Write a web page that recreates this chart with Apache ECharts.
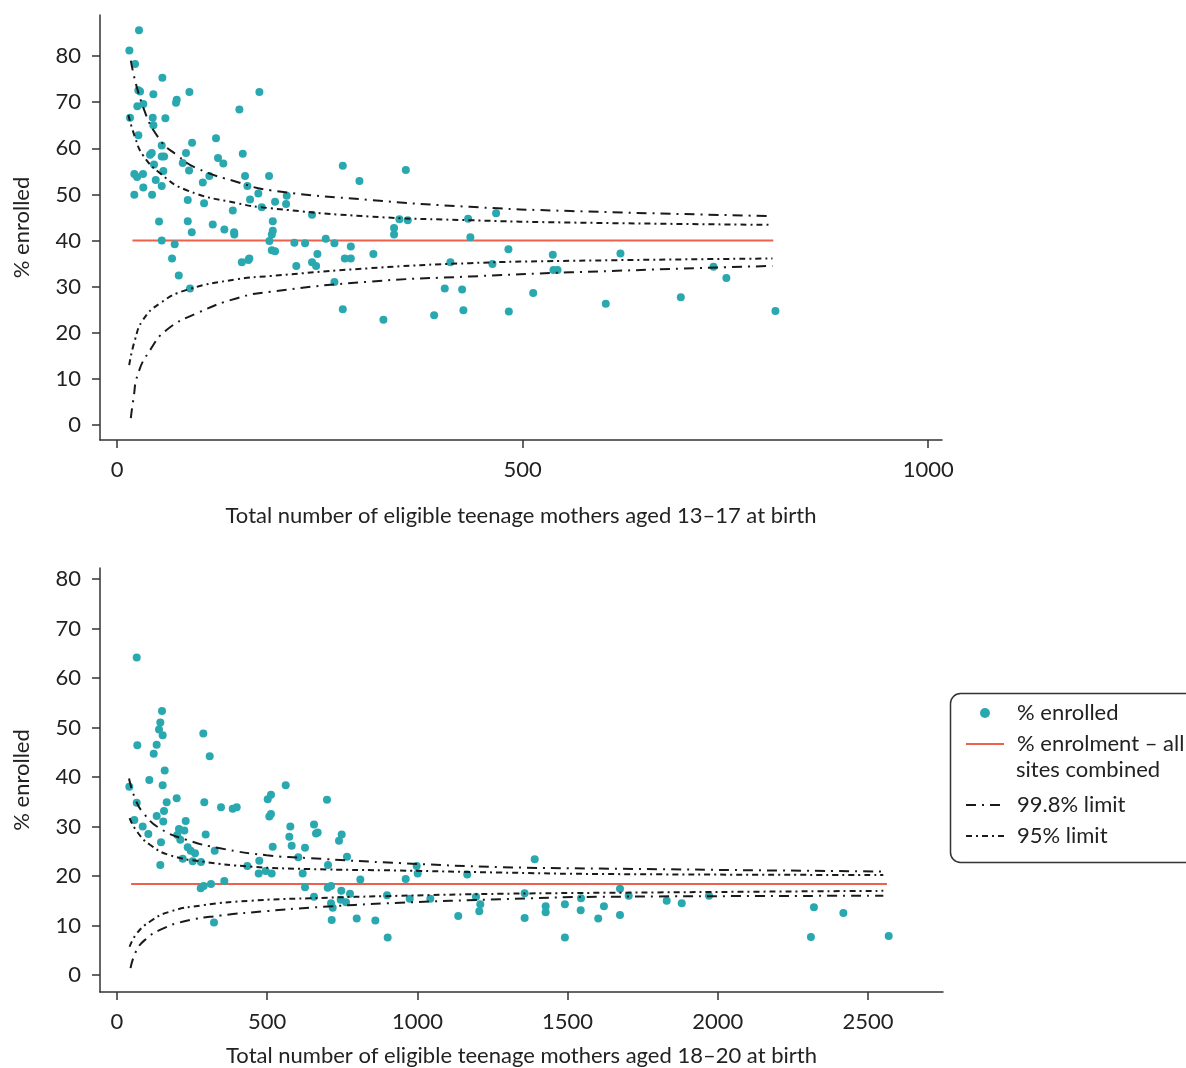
<!DOCTYPE html>
<html>
<head>
<meta charset="utf-8">
<script src="https://cdn.jsdelivr.net/npm/echarts@6/dist/echarts.min.js"></script>
<style>html,body{margin:0;padding:0;background:#fff}#c{width:1186px;height:1068px}</style>
</head>
<body>
<div id="c"></div>
<script>
// ---------- DATA ----------
// Top panel: teenage mothers aged 13–17 at birth
const topN = [27.1,15.2,22.2,55.9,26.3,28.4,44.8,89.2,175.5,73.6,72.7,32.4,25,150.8,16,44,59.6,44.8,26.3,122,92.5,55.1,85,155,40.7,42.8,55.1,58,124.5,81,45.6,131,88.8,57.1,21.3,24.7,32,157.8,187.4,113.8,
  47.7,55.1,32.4,21.3,43.2,87.2,107.3,105.7,160.7,174.2,164,194.8,209.2,208.4,178.4,142.7,192,51.8,87.2,92.1,118,132.3,144.3,144.6,192,190.8,187.8,218.6,55.1,71.1,190.8,194.8,67.8,163.1,161.9,153.8,221,76.1,90,
  278.3,356,298.8,240.4,467.3,348.1,358.4,432.8,341.5,341.5,435.6,257.3,231.8,268,288.2,482.5,537.2,247,316,280.8,288.2,240.4,245.4,411,462.8,538,543,268,404,425.4,513,278.3,390.9,427,483,328.4,
  620.6,735.3,751.2,602.5,695,811.7];
const topPct = [85.6,81.2,78.3,75.3,72.6,72.3,71.7,72.2,72.2,70.5,69.9,69.6,69.1,68.4,66.6,66.6,66.5,65,62.8,62.2,61.2,60.6,59,58.8,58.6,59,58.2,58.2,57.9,56.8,56.5,56.7,55.2,55.1,54.4,53.8,54.4,54,54,54,
  53.1,51.8,51.5,49.9,49.9,48.8,48.1,52.6,51.8,50.2,48.9,48.4,49.7,47.9,47.2,46.5,44.2,44.1,44.2,41.8,43.5,42.4,41.8,41.3,42.1,41.3,39.9,39.5,40,39.2,37.9,37.7,36.1,36.1,35.8,35.3,34.5,32.4,29.6,
  56.2,55.3,52.9,45.6,45.9,44.6,44.4,44.7,42.7,41.3,40.7,40.4,39.4,39.4,38.7,38.1,36.9,37.1,37.1,36.1,36.1,35.3,34.5,35.3,34.9,33.6,33.6,31,29.6,29.4,28.6,25.1,23.8,24.9,24.6,22.8,
  37.2,34.3,31.9,26.3,27.7,24.7];
const topOverallN = [19, 809];
const topOverallPct = [40, 40];
const topU998N = [17, 32, 53, 74, 98, 148, 189, 312, 435, 559, 808];
const topU998 = [79.0, 69.0, 61.8, 58.5, 55.7, 52.7, 50.9, 48.8, 47.3, 46.4, 45.3];
const topL998N = [17, 20, 26, 41, 61, 98, 148, 189, 312, 435, 559, 808];
const topL998 = [1.5, 5.4, 11.2, 16.3, 20.6, 24.2, 27.5, 28.9, 31.1, 32.2, 33.1, 34.5];
const topU95N = [14, 22, 32, 53, 86, 148, 189, 312, 435, 559, 808];
const topU95 = [67.2, 62.5, 58.5, 54.6, 50.9, 48.1, 47.0, 45.2, 44.4, 43.9, 43.4];
const topL95N = [15, 22, 32, 53, 86, 148, 189, 312, 435, 559, 808];
const topL95 = [13.0, 18.4, 22.8, 26.4, 29.3, 31.6, 32.3, 34.0, 35.1, 35.6, 36.1];

// Bottom panel: teenage mothers aged 18–20 at birth
const botN = [65.6,149.8,144.2,139.8,152,287.3,67.6,132,122.2,308.6,158.8,107.5,
  152,41,561.6,165.4,198.7,65.6,290.6,346.2,385.2,398.5,501.7,512.6,699,156.5,132.2,154,507,512.6,57.6,228.7,655.8,577,85.5,104.3,206.4,224.1,200.8,295.2,573.6,662.5,668,748,739,210.7,146.5,581.5,518.3,625.8,235.3,245.3,259.7,218.7,252,279.6,325.2,765.6,603.5,144.1,433.8,473.7,495,471.7,515,702.4,618.2,278.6,288.6,312.9,357.2,625.8,701.4,712.4,655.8,712.4,718,746.7,744.7,762.3,775.6,714.7,322.9,
  1390.5,997.7,1001,810,961,1166,898.8,974.4,1043,1195,1357,1544.6,1209.4,1206,1427,1427,1491,1543.6,1136,1357,1602,798,860,901,1491,
  1674.4,1703.4,1829.9,1880,1970.7,1621,1674.4,2320,2418,2310,2569];
const botPct = [64.1,53.3,51,49.6,48.4,48.8,46.4,46.5,44.7,44.2,41.3,39.4,
  38.3,38,38.3,34.9,35.7,34.8,34.9,33.9,33.6,33.9,35.5,36.4,35.4,33.1,32.1,31,32,32.5,31.3,31.1,30.4,30,30,28.5,29.5,29.2,28.3,28.4,27.9,28.6,28.8,28.4,27.1,27.3,26.8,26.1,25.9,25.7,25.8,25.1,24.6,23.5,23,22.8,25.1,23.9,23.8,22.2,22,23.1,21,20.5,20.5,22.2,20.5,17.5,18,18.4,19,17.7,17.6,18,15.8,14.5,13.6,17,15.2,14.7,16.4,11.1,10.6,
  23.4,22,20.5,19.3,19.4,20.3,16.1,15.4,15.4,15.8,16.5,15.5,14.3,12.9,13.9,12.7,14.3,13.1,11.9,11.5,11.4,11.4,11,7.6,7.6,
  17.4,16,15,14.5,16,13.9,12.1,13.7,12.5,7.7,7.9];
const botOverallN = [47, 2563];
const botOverallPct = [18.4, 18.4];
const botU998N = [40, 60, 88, 143, 232, 343, 498, 642, 942, 1275, 1608, 2551];
const botU998 = [39.7, 35.7, 32.7, 29.6, 27.3, 25.6, 24.2, 23.6, 22.6, 21.8, 21.5, 20.9];
const botL998N = [45, 66, 99, 143, 221, 343, 498, 642, 942, 1275, 1608, 2551];
const botL998 = [1.4, 5.1, 7.4, 9.1, 10.8, 12.0, 12.9, 13.6, 14.6, 15.3, 15.8, 16.0];
const botU95N = [42, 66, 110, 176, 287, 443, 642, 942, 1275, 1608, 2551];
const botU95 = [31.7, 29.0, 26.3, 24.2, 22.9, 21.9, 21.4, 21.1, 20.7, 20.4, 20.2];
const botL95N = [42, 66, 110, 176, 287, 443, 642, 942, 1275, 1608, 2551];
const botL95 = [5.7, 8.4, 10.8, 12.8, 14.1, 15.0, 15.5, 16.0, 16.4, 16.6, 17.0];

// Tick labels
const topXTicks = [0, 500, 1000];
const botXTicks = [0, 500, 1000, 1500, 2000, 2500];
const yTicks = [0, 10, 20, 30, 40, 50, 60, 70, 80];

// Names
const S_PCT = '% enrolled';
const S_ALL = '% enrolment – all sites combined';
const S_998 = '99.8% limit';
const S_95 = '95% limit';

// ---------- CHART ----------
const FONT = 'Lato, "Noto Sans", sans-serif';
const FS = 22;
const TXT = '#222';
const AX = '#333';
const TEAL = '#2aa8b0';
const RED = '#ec604c';
const DASH998 = [10, 6, 2, 6];
const DASH95 = [6, 4, 2, 4];
const CLEAR = 'rgba(0,0,0,0)';

const zip = (a, b) => a.map((v, i) => [v, b[i]]);

function xAxis(gridIndex, min, max, ticks, name, nameGap) {
  return {
    type: 'value', gridIndex, min, max, name, nameLocation: 'middle', nameGap,
    nameTextStyle: { fontFamily: FONT, fontSize: FS, color: TXT },
    axisLine: { show: true, onZero: false, lineStyle: { color: AX, width: 1.5 } },
    axisTick: { show: true, length: 8, customValues: ticks, lineStyle: { color: AX, width: 1.5 } },
    axisLabel: { customValues: ticks, margin: 19, fontFamily: FONT, fontSize: FS, color: TXT,
      formatter: v => String(v) },
    splitLine: { show: false }
  };
}
function yAxis(gridIndex, min, max) {
  return {
    type: 'value', gridIndex, min, max, name: '% enrolled', nameLocation: 'middle', nameGap: 67,
    nameTextStyle: { fontFamily: FONT, fontSize: FS, color: TXT },
    axisLine: { show: true, onZero: false, lineStyle: { color: AX, width: 1.5 } },
    axisTick: { show: true, length: 8, customValues: yTicks, lineStyle: { color: AX, width: 1.5 } },
    axisLabel: { customValues: yTicks, margin: 19, fontFamily: FONT, fontSize: FS, color: TXT,
      formatter: v => String(v) },
    splitLine: { show: false }
  };
}
function limitLine(name, idx, n, v, dash) {
  return {
    name, type: 'line', xAxisIndex: idx, yAxisIndex: idx, data: zip(n, v),
    symbol: 'none', showSymbol: false, smooth: 0.5,
    itemStyle: { color: CLEAR },
    lineStyle: { color: '#1a1a1a', width: 2, type: dash }, z: 4, silent: true
  };
}
function overall(idx, n, v) {
  return { name: S_ALL, type: 'line', xAxisIndex: idx, yAxisIndex: idx, data: zip(n, v),
    symbol: 'none', showSymbol: false, lineStyle: { color: RED, width: 2 }, itemStyle: { color: CLEAR }, z: 2, silent: true };
}
function scatter(idx, n, v) {
  return { name: S_PCT, type: 'scatter', xAxisIndex: idx, yAxisIndex: idx, data: zip(n, v),
    symbol: 'circle', symbolSize: 8, itemStyle: { color: TEAL, opacity: 1 }, z: 3, silent: true };
}
const legendBase = {
  orient: 'vertical', left: 965, padding: 0, itemGap: 5, itemWidth: 38, itemHeight: 10,
  selectedMode: false,
  textStyle: { fontFamily: FONT, fontSize: FS, color: TXT, lineHeight: 26, padding: [0, 0, 0, 8] },
  formatter: n => n === S_ALL ? '% enrolment – all' : n
};

const option = {
  animation: false,
  backgroundColor: '#fff',
  textStyle: { fontFamily: FONT },
  grid: [
    { left: 100, top: 15, width: 842, height: 425 },
    { left: 100, top: 568, width: 843, height: 424 }
  ],
  xAxis: [
    xAxis(0, -21, 1017, topXTicks, 'Total number of eligible teenage mothers aged 13–17 at birth', 65),
    xAxis(1, -56.6, 2749.7, botXTicks, 'Total number of eligible teenage mothers aged 18–20 at birth', 53)
  ],
  yAxis: [yAxis(0, -3.25, 88.9), yAxis(1, -3.43, 82.2)],
  legend: [
    Object.assign({}, legendBase, { top: 700, data: [S_PCT, S_ALL] }),
    Object.assign({}, legendBase, { top: 792, data: [S_998, S_95] })
  ],
  graphic: [
    { type: 'rect', shape: { x: 950.5, y: 693.5, width: 260, height: 169, r: 10 },
      style: { fill: 'none', stroke: AX, lineWidth: 1.5 }, silent: true },
    { type: 'text', x: 1016, y: 770, silent: true,
      style: { text: 'sites combined', fontFamily: FONT, fontSize: FS, fill: TXT, verticalAlign: 'middle' } }
  ],
  series: [
    overall(0, topOverallN, topOverallPct),
    scatter(0, topN, topPct),
    limitLine(S_998, 0, topU998N, topU998, DASH998),
    limitLine(S_998, 0, topL998N, topL998, DASH998),
    limitLine(S_95, 0, topU95N, topU95, DASH95),
    limitLine(S_95, 0, topL95N, topL95, DASH95),
    overall(1, botOverallN, botOverallPct),
    scatter(1, botN, botPct),
    limitLine(S_998, 1, botU998N, botU998, DASH998),
    limitLine(S_998, 1, botL998N, botL998, DASH998),
    limitLine(S_95, 1, botU95N, botU95, DASH95),
    limitLine(S_95, 1, botL95N, botL95, DASH95)
  ]
};
const chart = echarts.init(document.getElementById('c'), null, { renderer: 'canvas' });
chart.setOption(option);
</script>
</body>
</html>
